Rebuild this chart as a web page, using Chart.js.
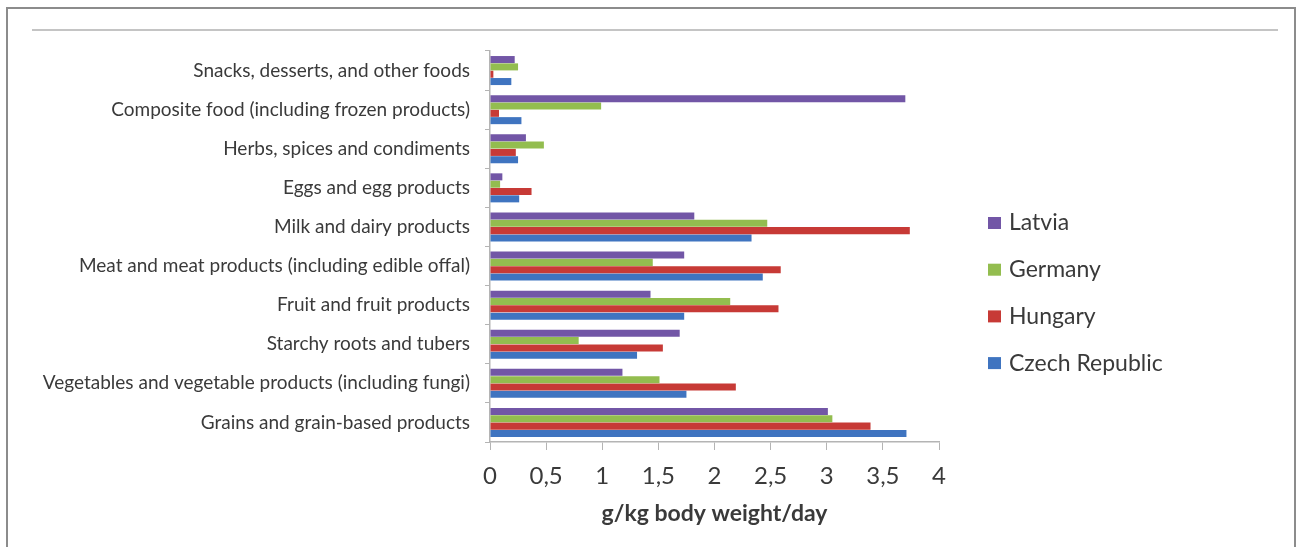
<!DOCTYPE html>
<html>
<head>
<meta charset="utf-8">
<script src="https://cdn.jsdelivr.net/npm/chart.js@4/dist/chart.umd.min.js"></script>
<style>
  html, body { margin: 0; padding: 0; background: #fff; }
  #wrap { position: relative; width: 1301px; height: 547px; overflow: hidden; }
  #frame { position: absolute; left: 6px; top: 7px; width: 1290px; height: 600px; border: 2px solid #8c8c8c; box-sizing: border-box; }
  #rule { position: absolute; left: 32px; top: 29px; width: 1246px; height: 2px; background: #c4c4c4; }
  #chart { position: absolute; left: 0; top: 0; }
</style>
</head>
<body>
<div id="wrap">
  <div id="frame"></div>
  <div id="rule"></div>
  <canvas id="chart" width="1301" height="547"></canvas>
</div>
<script>
const categories = [
    'Snacks, desserts, and other foods',
    'Composite food (including frozen products)',
    'Herbs, spices and condiments',
    'Eggs and egg products',
    'Milk and dairy products',
    'Meat and meat products (including edible offal)',
    'Fruit and fruit products',
    'Starchy roots and tubers',
    'Vegetables and vegetable products (including fungi)',
    'Grains and grain-based products'
];

const latvia  = [0.22, 3.70, 0.32, 0.11, 1.82, 1.73, 1.43, 1.69, 1.18, 3.01];
const germany = [0.25, 0.99, 0.48, 0.09, 2.47, 1.45, 2.14, 0.79, 1.51, 3.05];
const hungary = [0.03, 0.08, 0.23, 0.37, 3.74, 2.59, 2.57, 1.54, 2.19, 3.39];
const czech   = [0.19, 0.28, 0.25, 0.26, 2.33, 2.43, 1.73, 1.31, 1.75, 3.71];

const xTicks = [0, 0.5, 1, 1.5, 2, 2.5, 3, 3.5, 4];

const textColor = '#3a3a3a';
const axisColor = '#b4b4b4';

// legend drawn at the right, one row per dataset
const sideLegend = {
    id: 'sideLegend',
    afterDraw(chart) {
        const ctx = chart.ctx;
        ctx.save();
        ctx.font = '23px Lato';
        ctx.textBaseline = 'middle';
        chart.data.datasets.forEach((ds, i) => {
            const y = 223 + i * 46.7;
            ctx.fillStyle = ds.backgroundColor;
            ctx.fillRect(988, y - 6, 13, 12);
            ctx.fillStyle = textColor;
            ctx.fillText(ds.label, 1009, y);
        });
        ctx.restore();
    }
};

const ctx = document.getElementById('chart').getContext('2d');
new Chart(ctx, {
    type: 'bar',
    data: {
        labels: categories,
        datasets: [
            { label: 'Latvia', data: latvia, backgroundColor: '#7256a6' },
            { label: 'Germany', data: germany, backgroundColor: '#93bd4f' },
            { label: 'Hungary', data: hungary, backgroundColor: '#c73a36' },
            { label: 'Czech Republic', data: czech, backgroundColor: '#3f74c0' }
        ]
    },
    options: {
        indexAxis: 'y',
        responsive: false,
        animation: false,
        datasets: {
            bar: { categoryPercentage: 0.75, barPercentage: 0.96 }
        },
        layout: { padding: { top: 51, right: 362, bottom: 20, left: 0 } },
        plugins: {
            legend: { display: false },
            tooltip: { enabled: false }
        },
        scales: {
            x: {
                min: 0,
                max: 4,
                afterFit: scale => { scale.height = 85; },
                afterBuildTicks: scale => { scale.ticks = xTicks.map(v => ({ value: v })); },
                border: { color: axisColor, width: 1.5 },
                grid: { drawOnChartArea: false, drawTicks: true, tickLength: 8, color: axisColor },
                ticks: {
                    color: textColor,
                    font: { family: 'Lato', size: 24 },
                    padding: 12,
                    maxRotation: 0,
                    callback: v => String(v).replace('.', ',')
                },
                title: {
                    display: true,
                    text: 'g/kg body weight/day',
                    color: textColor,
                    font: { family: 'Lato', size: 23, weight: 'bold' },
                    padding: { top: 0, bottom: 0 }
                }
            },
            y: {
                afterFit: scale => { scale.width = 490; },
                border: { color: axisColor, width: 1.5 },
                grid: { drawOnChartArea: false, drawTicks: true, tickLength: 5, color: axisColor, offset: true },
                ticks: {
                    color: textColor,
                    font: { family: 'Lato', size: 19 },
                    padding: 15,
                    autoSkip: false
                }
            }
        }
    },
    plugins: [sideLegend]
});
</script>
</body>
</html>
